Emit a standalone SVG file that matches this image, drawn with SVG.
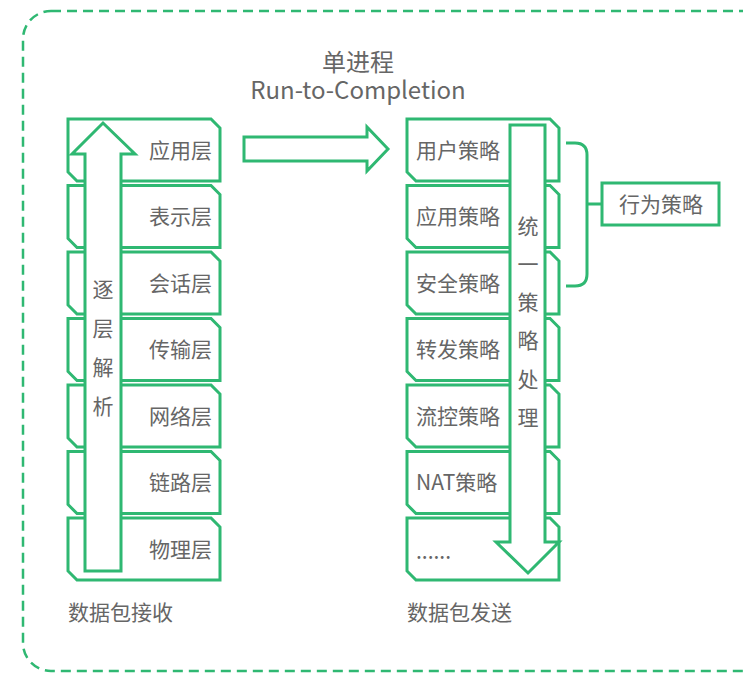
<svg xmlns="http://www.w3.org/2000/svg" width="743" height="673" viewBox="0 0 743 673">
<style>
.ln{fill:#fff;stroke:#2fb872;stroke-width:3;stroke-linejoin:miter}
.br{fill:none;stroke:#2fb872;stroke-width:3}
.t{font-family:"Noto Sans CJK SC","Noto Sans",sans-serif;font-size:21px;fill:#666}
.r{text-anchor:end}
.m{text-anchor:middle}
</style>
<rect x="23" y="11" width="760" height="660" rx="28" fill="none" stroke="#2fb872" stroke-width="2.5" stroke-dasharray="10 6"/>
<g id="title">
<text class="t m" x="358" y="71" style="font-size:24px">单进程</text>
<text class="t m" x="358" y="99" style="font-size:24px">Run-to-Completion</text>
</g>
<g id="left-stack">
<path class="ln" d="M68,119 H211 L220,128 V181 H77 L68,172 Z"/>
<path class="ln" d="M68,185.5 H211 L220,194.5 V247.5 H77 L68,238.5 Z"/>
<path class="ln" d="M68,252 H211 L220,261 V314 H77 L68,305 Z"/>
<path class="ln" d="M68,318.5 H211 L220,327.5 V380.5 H77 L68,371.5 Z"/>
<path class="ln" d="M68,385 H211 L220,394 V447 H77 L68,438 Z"/>
<path class="ln" d="M68,451.5 H211 L220,460.5 V513.5 H77 L68,504.5 Z"/>
<path class="ln" d="M68,518 H211 L220,527 V580 H77 L68,571 Z"/>
<text class="t r" x="212" y="157.5">应用层</text>
<text class="t r" x="212" y="224">表示层</text>
<text class="t r" x="212" y="290.5">会话层</text>
<text class="t r" x="212" y="357">传输层</text>
<text class="t r" x="212" y="423.5">网络层</text>
<text class="t r" x="212" y="490">链路层</text>
<text class="t r" x="212" y="556.5">物理层</text>
</g>
<g id="right-stack">
<path class="ln" d="M407,119 H550 L559,128 V181 H416 L407,172 Z"/>
<path class="ln" d="M407,185.5 H550 L559,194.5 V247.5 H416 L407,238.5 Z"/>
<path class="ln" d="M407,252 H550 L559,261 V314 H416 L407,305 Z"/>
<path class="ln" d="M407,318.5 H550 L559,327.5 V380.5 H416 L407,371.5 Z"/>
<path class="ln" d="M407,385 H550 L559,394 V447 H416 L407,438 Z"/>
<path class="ln" d="M407,451.5 H550 L559,460.5 V513.5 H416 L407,504.5 Z"/>
<path class="ln" d="M407,518 H550 L559,527 V580 H416 L407,571 Z"/>
<text class="t" x="416" y="157.5">用户策略</text>
<text class="t" x="416" y="224">应用策略</text>
<text class="t" x="416" y="290.5">安全策略</text>
<text class="t" x="416" y="357">转发策略</text>
<text class="t" x="416" y="423.5">流控策略</text>
<text class="t" x="416" y="490">NAT策略</text>
<text class="t" x="416" y="559">......</text>
</g>
<g id="parse-arrow">
<path class="ln" d="M85,571 V154 H72 L103,123 L135,154 H121 V571 Z"/>
<text class="t m" x="103" y="297">逐</text>
<text class="t m" x="103" y="336">层</text>
<text class="t m" x="103" y="375">解</text>
<text class="t m" x="103" y="414">析</text>
</g>
<g id="policy-arrow">
<path class="ln" d="M510,125 H545 V542 H559 L528,573 L496,542 H510 Z"/>
<text class="t m" x="528" y="234">统</text>
<text class="t m" x="528" y="272">一</text>
<text class="t m" x="528" y="310">策</text>
<text class="t m" x="528" y="348">略</text>
<text class="t m" x="528" y="387">处</text>
<text class="t m" x="528" y="425">理</text>
</g>
<g id="behavior">
<rect class="ln" x="602" y="183" width="117" height="42"/>
<text class="t m" x="661" y="211.5">行为策略</text>
</g>
<g id="connectors">
<path class="ln" d="M244,137 H367 V127 L388,149 L367,171 V161 H244 Z"/>
<path class="br" d="M566,143 H575 Q587,143 587,155 V274 Q587,286 575,286 H566 M587,204 H602"/>
</g>
<g id="labels">
<text class="t" x="68" y="620">数据包接收</text>
<text class="t" x="407" y="620">数据包发送</text>
</g>
</svg>
